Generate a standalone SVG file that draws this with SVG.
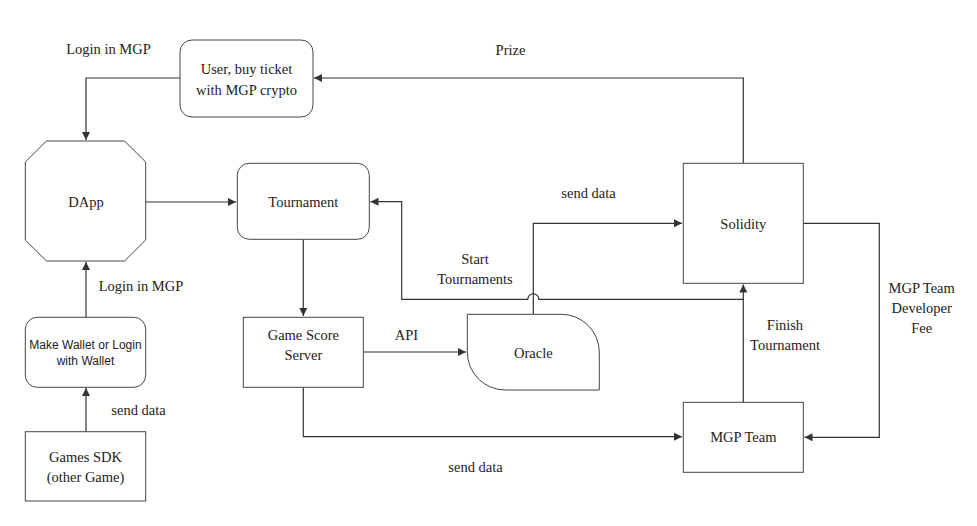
<svg xmlns="http://www.w3.org/2000/svg" width="977" height="526" viewBox="0 0 977 526">
<defs>
<style>
.n{fill:#fff;stroke:#444;stroke-width:1}
.c{fill:none;stroke:#333;stroke-width:1.2}
.t{font-family:'Liberation Serif','DejaVu Serif',serif;font-size:14.5px;fill:#222;text-anchor:middle}
.s{font-family:'Liberation Sans','DejaVu Sans',sans-serif;font-size:12px;fill:#222;text-anchor:middle}
</style>
<marker id="a" markerUnits="userSpaceOnUse" markerWidth="10" markerHeight="10" refX="8" refY="4" orient="auto">
<path d="M0,0 L8,4 L0,8 Z" fill="#333"/>
</marker>
</defs>
<rect width="977" height="526" fill="#fff"/>
<g id="connectors">
<path class="c" d="M180,78 H86 V140" marker-end="url(#a)"/>
<path class="c" d="M146,202 H236" marker-end="url(#a)"/>
<path class="c" d="M86,317 V262" marker-end="url(#a)"/>
<path class="c" d="M86,432 V388" marker-end="url(#a)"/>
<path class="c" d="M303.3,239.3 V316" marker-end="url(#a)"/>
<path class="c" d="M363.3,352 H466" marker-end="url(#a)"/>
<path class="c" d="M533.3,314.3 V223.3 H682" marker-end="url(#a)"/>
<path class="c" d="M743.3,299.3 H538.8 A5.5,5.5 0 0 0 527.8,299.3 H401.7 V201.7 H370.5" marker-end="url(#a)"/>
<path class="c" d="M743.3,402.3 V284.5" marker-end="url(#a)"/>
<path class="c" d="M743.3,163.3 V78 H314" marker-end="url(#a)"/>
<path class="c" d="M803.3,223.3 H879.3 V437.3 H804.5" marker-end="url(#a)"/>
<path class="c" d="M303.3,387.3 V436.7 H682" marker-end="url(#a)"/>
</g>
<g id="user">
<rect class="n" x="180" y="40" width="133" height="77" rx="12"/>
<text class="t" font-family="Liberation Serif, serif" x="246.5" y="74">User, buy ticket</text>
<text class="t" font-family="Liberation Serif, serif" x="246.5" y="95">with MGP crypto</text>
</g>
<g id="dapp">
<path class="n" d="M46.5,141 H124.5 L145.7,162 V240 L124.5,261 H46.5 L25.3,240 V162 Z"/>
<text class="t" x="86" y="207">DApp</text>
</g>
<g id="tournament">
<rect class="n" x="237.3" y="163.3" width="132" height="76" rx="12"/>
<text class="t" x="303.3" y="207">Tournament</text>
</g>
<g id="makewallet">
<rect class="n" x="25.3" y="317.3" width="120.4" height="70" rx="12"/>
<text class="s" x="85.5" y="349">Make Wallet or Login</text>
<text class="s" x="85.5" y="365">with Wallet</text>
</g>
<g id="gamessdk">
<rect class="n" x="25.3" y="431.7" width="120.4" height="69.3"/>
<text class="t" x="85.5" y="461.5">Games SDK</text>
<text class="t" x="85.5" y="482">(other Game)</text>
</g>
<g id="gamescore">
<rect class="n" x="243.3" y="317.3" width="120" height="70"/>
<text class="t" x="303.3" y="340">Game Score</text>
<text class="t" x="303.3" y="360">Server</text>
</g>
<g id="oracle">
<path class="n" d="M467.3,314.3 H561.3 A38,38 0 0 1 599.3,352.3 V390 H505.3 A38,38 0 0 1 467.3,352 Z"/>
<text class="t" x="533.3" y="358">Oracle</text>
</g>
<g id="solidity">
<rect class="n" x="683.3" y="163.3" width="120" height="120"/>
<text class="t" x="743.3" y="229">Solidity</text>
</g>
<g id="mgpteam">
<rect class="n" x="683.3" y="402.3" width="120" height="70"/>
<text class="t" x="743.3" y="442">MGP Team</text>
</g>
<g id="labels">
<text class="t" x="108.5" y="54">Login in MGP</text>
<text class="t" x="510.5" y="55">Prize</text>
<text class="t" x="588.5" y="198">send data</text>
<text class="t" x="475" y="264">Start</text>
<text class="t" x="475" y="284">Tournaments</text>
<text class="t" x="406.5" y="340">API</text>
<text class="t" x="141" y="291">Login in MGP</text>
<text class="t" x="138.5" y="415">send data</text>
<text class="t" x="475.5" y="472">send data</text>
<text class="t" x="785" y="330">Finish</text>
<text class="t" x="785" y="350">Tournament</text>
<text class="t" x="921.7" y="293">MGP Team</text>
<text class="t" x="921.7" y="313">Developer</text>
<text class="t" x="921.7" y="333">Fee</text>
</g>
</svg>
